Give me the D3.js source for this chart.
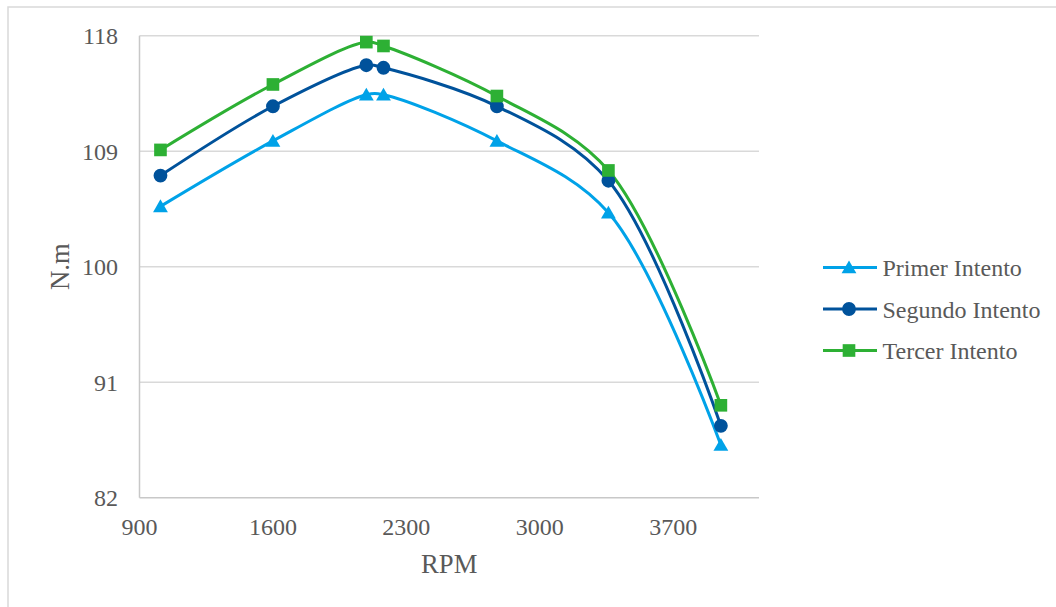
<!DOCTYPE html>
<html>
<head>
<meta charset="utf-8">
<script src="https://cdn.jsdelivr.net/npm/d3@7"></script>
<style>
  body { margin: 0; background: #fff; }
  svg { display: block; }
  text { font-family: "Times New Roman", "Liberation Serif", serif; fill: #595959; }
</style>
</head>
<body>
<svg id="chart" width="1056" height="607"></svg>
<script>
// Engine speed (RPM) and torque (N.m) for three test runs
const rpm = [1010, 1600, 2090, 2180, 2775, 3360, 3950];
const primerIntento = [104.7, 109.8, 113.4, 113.4, 109.8, 104.2, 86.1];
const segundoIntento = [107.1, 112.5, 115.7, 115.5, 112.5, 106.7, 87.6];
const tercerIntento = [109.1, 114.2, 117.5, 117.2, 113.3, 107.5, 89.2];
const xTicks = [900, 1600, 2300, 3000, 3700];
const yTicks = [82, 91, 100, 109, 118];
const seriesNames = ["Primer Intento", "Segundo Intento", "Tercer Intento"];

const series = [
  { name: seriesNames[0], values: primerIntento, color: "#00A2E8", marker: "triangle" },
  { name: seriesNames[1], values: segundoIntento, color: "#00529B", marker: "circle" },
  { name: seriesNames[2], values: tercerIntento, color: "#2DB034", marker: "square" }
];

const svg = d3.select("#chart");

// outer chart frame
svg.append("rect")
  .attr("x", 8).attr("y", 7)
  .attr("width", 1060).attr("height", 620)
  .attr("fill", "none").attr("stroke", "#d9d9d9").attr("stroke-width", 1.5);

const x = d3.scaleLinear().domain([900, 4150]).range([139.5, 759]);
const y = d3.scaleLinear().domain([82, 118]).range([497.7, 35.7]);

// horizontal gridlines
svg.append("g").selectAll("line").data(yTicks.slice(1)).join("line")
  .attr("x1", x.range()[0]).attr("x2", x.range()[1])
  .attr("y1", d => y(d)).attr("y2", d => y(d))
  .attr("stroke", "#d9d9d9").attr("stroke-width", 1.5);

// axis lines
svg.append("line")
  .attr("x1", x.range()[0]).attr("x2", x.range()[0])
  .attr("y1", y.range()[1]).attr("y2", y.range()[0])
  .attr("stroke", "#c8c8c8").attr("stroke-width", 1.5);
svg.append("line")
  .attr("x1", x.range()[0]).attr("x2", x.range()[1])
  .attr("y1", y.range()[0]).attr("y2", y.range()[0])
  .attr("stroke", "#c8c8c8").attr("stroke-width", 1.5);

// y tick labels
svg.append("g").selectAll("text").data(yTicks).join("text")
  .attr("x", 118).attr("y", d => y(d) + 8.5)
  .attr("text-anchor", "end").attr("font-size", 24)
  .text(d => d);

// x tick labels
svg.append("g").selectAll("text").data(xTicks).join("text")
  .attr("x", d => x(d)).attr("y", y.range()[0] + 37)
  .attr("text-anchor", "middle").attr("font-size", 24)
  .text(d => d);

// axis titles
svg.append("text")
  .attr("x", (x.range()[0] + x.range()[1]) / 2).attr("y", 573)
  .attr("text-anchor", "middle").attr("font-size", 26.67)
  .text("RPM");
svg.append("text")
  .attr("transform", `translate(69,${(y.range()[0] + y.range()[1]) / 2}) rotate(-90)`)
  .attr("text-anchor", "middle").attr("font-size", 26.67)
  .text("N.m");

const line = d3.line()
  .x(d => x(d[0])).y(d => y(d[1]))
  .curve(d3.curveCatmullRom.alpha(0.5));

const symbolFor = {
  triangle: d3.symbol().type(d3.symbolTriangle).size(95),
  circle: d3.symbol().type(d3.symbolCircle).size(150),
  square: d3.symbol().type(d3.symbolSquare).size(160)
};

const plot = svg.append("g");
series.forEach(s => {
  const pts = rpm.map((r, i) => [r, s.values[i]]);
  plot.append("path")
    .attr("d", line(pts))
    .attr("fill", "none").attr("stroke", s.color)
    .attr("stroke-width", 3).attr("stroke-linejoin", "round");
  s.pts = pts;
});
series.forEach(s => {
  plot.append("g").selectAll("path").data(s.pts).join("path")
    .attr("transform", d => `translate(${x(d[0])},${y(d[1]) + (s.marker === "triangle" ? 1.5 : 0)})`)
    .attr("d", symbolFor[s.marker]())
    .attr("fill", s.color);
});

// legend
const legend = svg.append("g");
series.forEach((s, i) => {
  const ly = 267.5 + i * 41.5;
  legend.append("line")
    .attr("x1", 823).attr("x2", 877).attr("y1", ly).attr("y2", ly)
    .attr("stroke", s.color).attr("stroke-width", 3);
  legend.append("path")
    .attr("transform", `translate(849,${ly + (s.marker === "triangle" ? 1.5 : 0)})`)
    .attr("d", symbolFor[s.marker]())
    .attr("fill", s.color);
  legend.append("text")
    .attr("x", 882.5).attr("y", ly + 8.5)
    .attr("font-size", 24)
    .text(s.name);
});
</script>
</body>
</html>
